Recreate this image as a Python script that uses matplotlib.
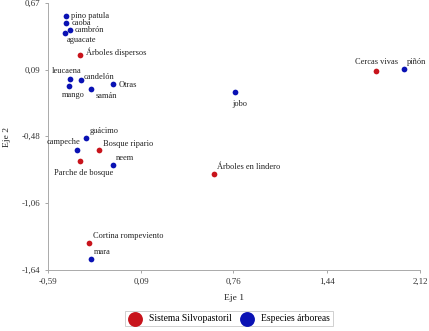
import matplotlib.pyplot as plt

plt.rcParams['font.family'] = ['Liberation Serif', 'DejaVu Serif']

# Sistema Silvopastoril (rojo)
sist_names = ['Árboles dispersos', 'Cercas vivas', 'Bosque ripario', 'Parche de bosque',
              'Árboles en lindero', 'Cortina rompeviento']
sist_x = [-0.36, 1.80, -0.22, -0.36, 0.62, -0.29]
sist_y = [0.22, 0.08, -0.60, -0.70, -0.81, -1.41]

# Especies arbóreas (azul)
esp_names = ['pino patula', 'caoba', 'cambrón', 'aguacate', 'leucaena', 'candelón', 'mango',
             'samán', 'Otras', 'piñón', 'jobo', 'guácimo', 'campeche', 'neem', 'mara']
esp_x = [-0.46, -0.46, -0.43, -0.47, -0.43, -0.35, -0.44, -0.28, -0.12, 2.00, 0.77,
         -0.31, -0.38, -0.12, -0.28]
esp_y = [0.56, 0.50, 0.44, 0.41, 0.01, 0.00, -0.05, -0.07, -0.03, 0.10, -0.10,
         -0.50, -0.60, -0.73, -1.54]

xticks = [-0.59, 0.09, 0.76, 1.44, 2.12]
yticks = [-1.64, -1.06, -0.48, 0.09, 0.67]

# desplazamiento de etiquetas (px) y alineacion
sist_off = {'Árboles dispersos': (6, 3, 'left'), 'Cercas vivas': (0, 9, 'center'),
            'Bosque ripario': (4, 6, 'left'), 'Parche de bosque': (4, -12, 'center'),
            'Árboles en lindero': (3, 7, 'left'), 'Cortina rompeviento': (4, 7, 'left')}
esp_off = {'pino patula': (5, 0, 'left'), 'caoba': (6, 0, 'left'), 'cambrón': (5, 0, 'left'),
           'aguacate': (2, -7, 'left'), 'leucaena': (-3, 8, 'center'),
           'candelón': (3, 3, 'left'), 'mango': (5, -9, 'center'), 'samán': (5, -7, 'left'),
           'Otras': (6, -1, 'left'), 'piñón': (3, 7, 'left'), 'jobo': (5, -12, 'center'),
           'guácimo': (3, 7, 'left'), 'campeche': (4, 8, 'right'), 'neem': (3, 7, 'left'),
           'mara': (3, 7, 'left')}

red = '#c8141c'
blue = '#0a12b4'

fig = plt.figure(figsize=(4.29, 3.31), dpi=100)
ax = fig.add_axes([0.112, 0.184, 0.867, 0.807])

ax.scatter(sist_x, sist_y, s=17, color=red, linewidths=0, zorder=3, label='Sistema Silvopastoril')
ax.scatter(esp_x, esp_y, s=17, color=blue, linewidths=0, zorder=3, label='Especies árboreas')

for n, x, y in zip(sist_names, sist_x, sist_y):
    dx, dy, ha = sist_off[n]
    ax.annotate(n, (x, y), xytext=(dx * 0.72, dy * 0.72), textcoords='offset points',
                ha=ha, va='center', fontsize=6, color='#222')
for n, x, y in zip(esp_names, esp_x, esp_y):
    dx, dy, ha = esp_off[n]
    ax.annotate(n, (x, y), xytext=(dx * 0.72, dy * 0.72), textcoords='offset points',
                ha=ha, va='center', fontsize=6, color='#222')

ax.set_xlim(-0.59, 2.12)
ax.set_ylim(-1.64, 0.67)
ax.set_xticks(xticks)
ax.set_yticks(yticks)
ax.set_xticklabels([f'{v:.2f}'.replace('.', ',') for v in xticks])
ax.set_yticklabels([f'{v:.2f}'.replace('.', ',') for v in yticks])
ax.tick_params(labelsize=6.4, colors='#999', labelcolor='#333', length=2, width=0.6)

for s in ['top', 'right']:
    ax.spines[s].set_visible(False)
for s in ['left', 'bottom']:
    ax.spines[s].set_color('#aaa')
    ax.spines[s].set_linewidth(0.7)

ax.set_xlabel('Eje 1', fontsize=6.8, color='#222', labelpad=6)
ax.set_ylabel('Eje 2', fontsize=6.8, color='#222', labelpad=8)

leg = fig.legend(loc='lower center', bbox_to_anchor=(0.534, 0.0), ncol=2, fontsize=6.9,
                 frameon=True, fancybox=False, edgecolor='#bbb', markerscale=2.6,
                 handletextpad=0.8, columnspacing=0.9, borderpad=0.3, handlelength=1.4)
leg.get_frame().set_linewidth(0.6)

fig.savefig('out.png', dpi=100)
